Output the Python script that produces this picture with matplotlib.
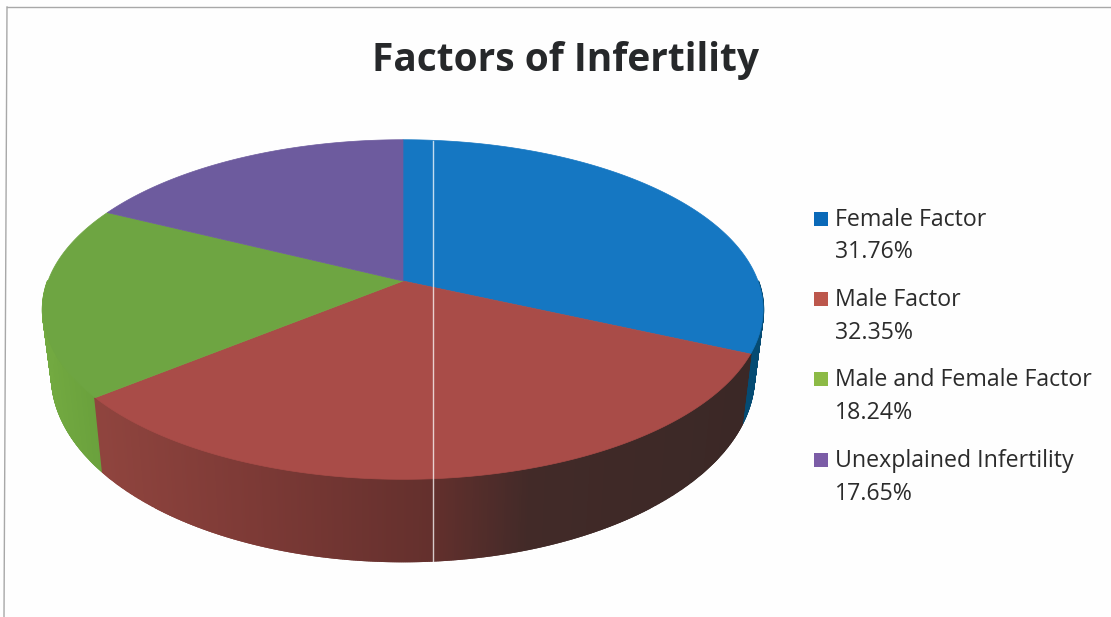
import matplotlib
matplotlib.use('Agg')
import matplotlib.pyplot as plt
import numpy as np

title = 'Factors of Infertility'
labels = ['Female Factor', 'Male Factor', 'Male and Female Factor', 'Unexplained Infertility']
percent = [31.76, 32.35, 18.24, 17.65]

top_colors = ['#1577C2', '#A94C48', '#6EA542', '#6D5B9E']
key_colors = ['#0A69B8', '#BC574C', '#8CBA46', '#7B5CA6']
# wall shading from left to right of the pie
shade_x = [40, 100, 250, 430, 530, 770]
wall_colors = {
    0: [(5, 75, 115)] * 6,
    1: [(150, 70, 65), (143, 68, 62), (125, 58, 54), (100, 48, 45), (66, 42, 40), (58, 40, 38)],
    2: [(115, 170, 65), (105, 160, 60), (105, 160, 60), (105, 160, 60), (105, 160, 60), (105, 160, 60)],
}

plt.rcParams['font.family'] = ['Open Sans', 'DejaVu Sans']

fig = plt.figure(figsize=(11.11, 6.17), dpi=100, facecolor='#fefefe')
ax = fig.add_axes([0, 0, 1, 1])
ax.set_xlim(0, 1111)
ax.set_ylim(617, 0)
ax.axis('off')

# the pie is a flat circle seen in perspective
cx, cy = 403, 281
rx, ry = 355, 165
k = 0.168


def top_face(t):
    u, v = np.sin(t), np.cos(t)
    w = 1 + k * v
    return cx + rx * u / w, cy - ry * v / w


def bottom_face(t):
    u, v = np.sin(t), np.cos(t)
    w = 1 + k * v
    return cx + 0.975 * rx * u / w, cy + 63.5 - 1.093 * ry * v / w


edges = np.cumsum([0] + percent) / sum(percent) * 2 * np.pi

# walls, only the front of the pie can be seen
for i in [0, 2, 1]:
    t = np.linspace(edges[i], edges[i + 1], int(percent[i] * 12))
    xt, yt = top_face(t)
    xb, yb = bottom_face(t)
    rgb = np.array(wall_colors[i]) / 255
    for j in range(len(t) - 1):
        if np.cos(t[j]) > 0 and np.cos(t[j + 1]) > 0:
            continue
        xm = (xt[j] + xt[j + 1]) / 2
        c = [np.interp(xm, shade_x, rgb[:, n]) for n in range(3)]
        ax.fill([xt[j], xt[j + 1], xb[j + 1], xb[j]], [yt[j], yt[j + 1], yb[j + 1], yb[j]],
                color=c, lw=1.5, zorder=2)

# top face
for i in range(4):
    t = np.linspace(edges[i], edges[i + 1], 200)
    xt, yt = top_face(t)
    ax.fill(np.r_[cx, xt], np.r_[cy, yt], color=top_colors[i], lw=0.5, zorder=3)

# scanner streak and page frame
ax.plot([433, 433], [141, 561], color='white', lw=1, alpha=0.75, zorder=4)
ax.plot([7, 4], [7, 617], color='#a8a8a8', lw=1)
ax.plot([7, 1111], [7, 7], color='#a8a8a8', lw=1)

ax.text(566, 71, title, fontsize=28, fontweight='bold', color='#26282a', ha='center', va='baseline')

key_y = [226, 306, 386, 467]
pct_y = [258, 339, 419, 500]
for i in range(4):
    ax.fill([814, 828, 828, 814], [key_y[i] - 14, key_y[i] - 14, key_y[i], key_y[i]],
            color=key_colors[i], lw=0)
    ax.text(835, key_y[i], labels[i], fontsize=16.7, color='#2b2b2b', va='baseline')
    ax.text(835, pct_y[i], '%.2f%%' % percent[i], fontsize=16.7, color='#2b2b2b', va='baseline')

fig.savefig('out.png', dpi=100, facecolor=fig.get_facecolor())
